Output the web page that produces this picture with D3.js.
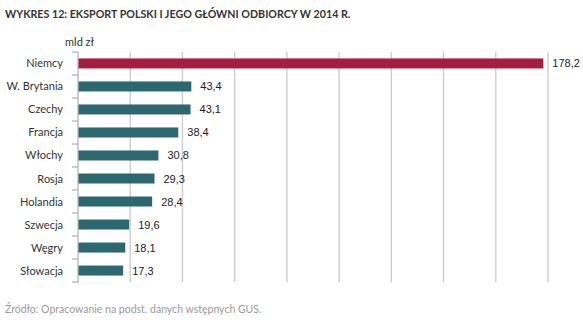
<!DOCTYPE html>
<html>
<head>
<meta charset="utf-8">
<script src="https://cdnjs.cloudflare.com/ajax/libs/d3/7.8.5/d3.min.js"></script>
<style>
  body { margin: 0; background: #fff; }
</style>
</head>
<body>
<script>
'use strict';

// chart data
const countries = ['Niemcy', 'W. Brytania', 'Czechy', 'Francja', 'Włochy', 'Rosja',
                   'Holandia', 'Szwecja', 'Węgry', 'Słowacja'];
const exportValues = [178.2, 43.4, 43.1, 38.4, 30.8, 29.3, 28.4, 19.6, 18.1, 17.3];
const xTicks = [0, 20, 40, 60, 80, 100, 120, 140, 160, 180];
const titleText = 'WYKRES 12: EKSPORT POLSKI I JEGO GŁÓWNI ODBIORCY W 2014 R.';
const unitText = 'mld zł';
const sourceText = 'Źródło: Opracowanie na podst. danych wstępnych GUS.';

const svgWidth = 583, svgHeight = 322;
const plotLeft = 78, plotRight = 548, plotTop = 52, plotBottom = 282;

let svg = d3.select('body').append('svg')
  .attr('width', svgWidth)
  .attr('height', svgHeight);

let rows = countries.map((c, i) => ({ name: c, value: exportValues[i] }));

// scales
let xScale = d3.scaleLinear().domain([0, 180]).range([plotLeft, plotRight]);
let yScale = d3.scaleBand().domain(countries).range([plotTop, plotBottom])
  .paddingInner(0.565).paddingOuter(0.28);
let step = (plotBottom - plotTop) / countries.length;

// vertical gridlines
svg.append('g')
  .selectAll('line')
  .data(xTicks.slice(1))
  .enter()
  .append('line')
    .attr('x1', d => xScale(d))
    .attr('x2', d => xScale(d))
    .attr('y1', plotTop)
    .attr('y2', plotBottom)
    .attr('stroke', '#cdcdcd')
    .attr('stroke-width', 1.4);

// left axis line with ticks between categories
let axis = svg.append('g');
axis.append('line')
  .attr('x1', plotLeft).attr('x2', plotLeft)
  .attr('y1', plotTop).attr('y2', plotBottom + 1)
  .attr('stroke', '#b5b5b5')
  .attr('stroke-width', 1.3);
axis.selectAll('.tick')
  .data(d3.range(countries.length + 1))
  .enter()
  .append('line')
    .attr('x1', plotLeft - 6).attr('x2', plotLeft)
    .attr('y1', d => plotTop + d * step)
    .attr('y2', d => plotTop + d * step)
    .attr('stroke', '#b5b5b5')
    .attr('stroke-width', 1.3);

// bars
svg.append('g')
  .selectAll('rect')
  .data(rows)
  .enter()
  .append('rect')
    .attr('x', xScale(0) + 0.5)
    .attr('y', d => yScale(d.name))
    .attr('width', d => xScale(d.value) - xScale(0) - 0.5)
    .attr('height', yScale.bandwidth())
    .attr('fill', d => d.name === 'Niemcy' ? '#a51d3f' : '#2d6770');

// value labels
svg.append('g')
  .selectAll('text')
  .data(rows)
  .enter()
  .append('text')
    .attr('x', d => xScale(d.value) + 9)
    .attr('y', d => yScale(d.name) + yScale.bandwidth() / 2 + 4)
    .style('font', '11px "Liberation Sans", Arial, sans-serif')
    .attr('fill', '#222')
    .text(d => d3.format('.1f')(d.value).replace('.', ','));

// category labels
svg.append('g')
  .selectAll('text')
  .data(rows)
  .enter()
  .append('text')
    .attr('x', 63)
    .attr('y', d => yScale(d.name) + yScale.bandwidth() / 2 + 4)
    .attr('text-anchor', 'end')
    .style('font', '11px Lato, sans-serif')
    .attr('fill', '#333')
    .text(d => d.name);

// title, unit and source
svg.append('text')
  .attr('x', 5)
  .attr('y', 18)
  .style('font', 'bold 10.7px Lato, sans-serif')
  .attr('fill', '#333')
  .text(titleText);

svg.append('text')
  .attr('x', 65)
  .attr('y', 46)
  .style('font', '11px Lato, sans-serif')
  .attr('fill', '#333')
  .text(unitText);

svg.append('text')
  .attr('x', 5)
  .attr('y', 313)
  .style('font', '10.5px Lato, sans-serif')
  .attr('fill', '#9a9a9a')
  .text(sourceText);
</script>
</body>
</html>
